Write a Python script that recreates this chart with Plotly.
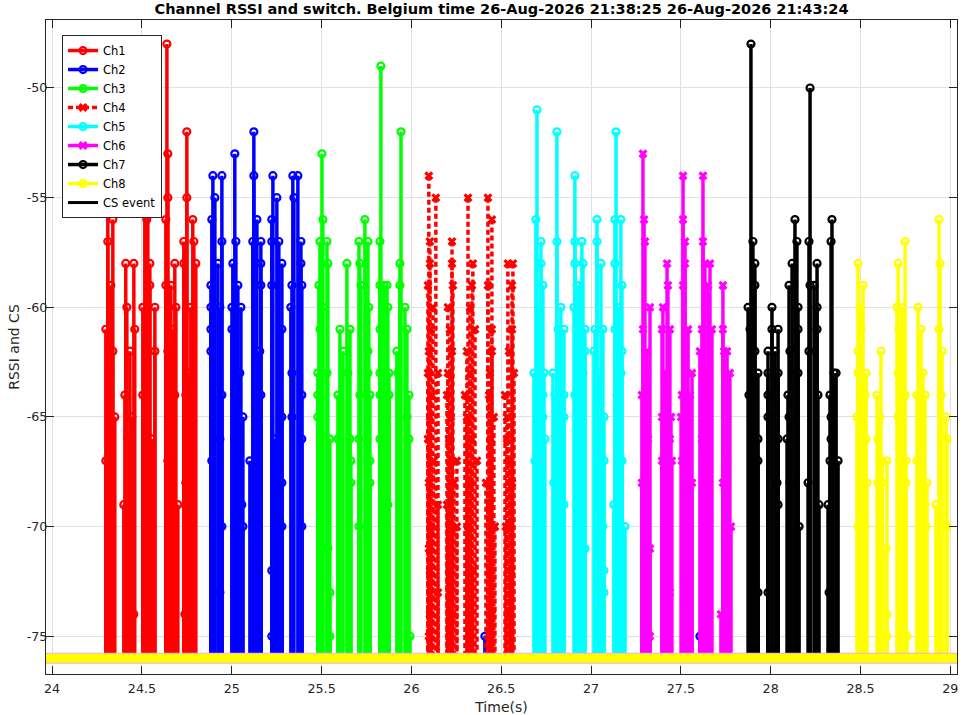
import plotly.graph_objects as go

# RSSI floor reported when the radio is idle on a channel, and the capture window (s)
RSSI_FLOOR = -76
T_START, T_END = 23.966, 29.037
Y_MIN, Y_MAX = -76.72, -46.9

ytick_vals = [-75, -70, -65, -60, -55, -50]
ytick_text = ['-75', '-70', '-65', '-60', '-55', '-50']

names = ['Ch1', 'Ch2', 'Ch3', 'Ch4', 'Ch5', 'Ch6', 'Ch7', 'Ch8']
colors = ['#ff0000', '#0000ff', '#00ff00', '#ff0000', '#00ffff', '#ff00ff', '#000000', '#ffff00']
symbols = ['circle-open', 'circle-open', 'circle-open', 'x', 'circle-open', 'x', 'circle-open', 'circle-open']
dashes = ['solid', 'solid', 'solid', '5px,3px', 'solid', 'solid', 'solid', 'solid']

#sample times (s) and RSSI (dBm) per channel, one line per burst
ch1_t = [24.310, 24.338, 24.310, 24.327, 24.299, 24.338, 24.321, 24.349, 24.299,
	24.410, 24.455, 24.416, 24.460, 24.433, 24.405, 24.444, 24.421, 24.399, 24.455,
	24.533, 24.516, 24.527, 24.544, 24.544, 24.505, 24.572, 24.572, 24.505, 24.555, 24.538, 24.527,
	24.639, 24.644, 24.644, 24.633, 24.683, 24.633, 24.661, 24.689, 24.672, 24.644, 24.683, 24.644, 24.700,
	24.750, 24.750, 24.783, 24.733, 24.789, 24.733, 24.800, 24.772, 24.761, 24.744, 24.744, 24.739]
ch1_rssi = [-54, -56, -57, -59, -61, -62, -63, -65, -67,
	-58, -58, -60, -61, -62, -64, -65, -66, -69, -74,
	-54, -55, -56, -58, -59, -60, -60, -62, -64, -66, -68, -75,
	-48, -53, -55, -56, -58, -59, -59, -60, -61, -62, -64, -67, -69,
	-52, -55, -56, -57, -57, -58, -58, -60, -63, -64, -68, -74]

ch2_t = [24.895, 24.945, 24.906, 24.889, 24.945, 24.923, 24.884, 24.884, 24.934, 24.884, 24.884, 24.945, 24.934, 24.889, 24.945, 24.934,
	25.017, 25.023, 25.006, 25.034, 25.001, 25.051, 25.001, 25.045, 25.062, 25.056, 25.062,
	25.123, 25.123, 25.140, 25.117, 25.162, 25.162, 25.162, 25.156, 25.162, 25.101, 25.140,
	25.229, 25.251, 25.223, 25.223, 25.262, 25.279, 25.223, 25.279, 25.279, 25.240, 25.279, 25.279, 25.223, 25.223,
	25.340, 25.368, 25.346, 25.385, 25.385, 25.335, 25.390, 25.329, 25.335, 25.390, 25.335, 25.390, 25.390,
	26.409, 27.606]
ch2_rssi = [-54, -54, -55, -56, -57, -58, -59, -60, -60, -61, -62, -64, -66, -67, -70, -73,
	-53, -57, -58, -59, -60, -60, -61, -63, -65, -69, -70,
	-52, -54, -56, -57, -57, -58, -59, -62, -64, -67, -67,
	-54, -55, -56, -57, -57, -58, -59, -61, -65, -66, -68, -70, -72, -75,
	-54, -54, -55, -57, -58, -59, -59, -60, -63, -64, -65, -66, -70,
	-75, -75]

ch3_t = [25.502, 25.507, 25.491, 25.530, 25.535, 25.485, 25.507, 25.491, 25.479, 25.530, 25.479, 25.479, 25.546, 25.535, 25.546, 25.546,
	25.641, 25.602, 25.658, 25.619, 25.646, 25.591, 25.591, 25.658, 25.663, 25.663,
	25.741, 25.708, 25.758, 25.713, 25.719, 25.763, 25.758, 25.758, 25.713, 25.769, 25.708, 25.769, 25.769, 25.708,
	25.830, 25.825, 25.825, 25.847, 25.864, 25.869, 25.825, 25.825, 25.875, 25.825, 25.875, 25.825, 25.869,
	25.942, 25.936, 25.936, 25.964, 25.975, 25.919, 25.925, 25.986, 25.975, 25.986, 25.992]
ch3_rssi = [-53, -56, -57, -57, -58, -59, -60, -61, -63, -63, -64, -65, -66, -71, -73, -75,
	-58, -61, -61, -62, -63, -64, -66, -66, -67, -68,
	-56, -57, -57, -58, -59, -60, -62, -63, -64, -64, -66, -67, -68, -70,
	-49, -57, -59, -59, -59, -60, -61, -63, -63, -64, -64, -66, -69,
	-52, -58, -59, -60, -61, -62, -63, -64, -65, -66, -75]

ch4_t = [26.097, 26.136, 26.103, 26.103, 26.092, 26.120, 26.109, 26.097, 26.092, 26.148, 26.114, 26.103, 26.092, 26.125, 26.097, 26.148, 26.109, 26.097, 26.103, 26.148, 26.103, 26.097,
	26.226, 26.226, 26.231, 26.203, 26.214, 26.226, 26.203, 26.198, 26.220, 26.209, 26.226, 26.253, 26.237, 26.198, 26.253, 26.214, 26.226,
	26.315, 26.342, 26.337, 26.326, 26.354, 26.309, 26.326, 26.298, 26.309, 26.337, 26.365, 26.326, 26.315, 26.342, 26.326,
	26.426, 26.448, 26.426, 26.448, 26.448, 26.437, 26.432, 26.459, 26.443, 26.415, 26.437, 26.465, 26.437, 26.448,
	26.537, 26.565, 26.560, 26.560, 26.543, 26.571, 26.521, 26.532, 26.532, 26.548, 26.560, 26.526, 26.554, 26.543]
ch4_rssi = [-54, -55, -57, -58, -59, -60, -61, -62, -63, -63, -64, -65, -66, -67, -68, -69, -70, -71, -72, -73, -74, -75,
	-57, -58, -59, -60, -61, -62, -63, -64, -65, -66, -67, -67, -68, -69, -70, -72, -74,
	-55, -58, -59, -60, -61, -62, -63, -64, -65, -66, -67, -68, -70, -72, -74,
	-55, -56, -59, -61, -62, -63, -64, -65, -66, -68, -69, -70, -72, -74,
	-58, -58, -59, -61, -62, -63, -64, -65, -66, -67, -68, -70, -72, -74]

ch5_t = [26.699, 26.693, 26.721, 26.721, 26.732, 26.710, 26.682, 26.738, 26.732, 26.732, 26.743, 26.688,
	26.810, 26.810, 26.832, 26.816, 26.849, 26.788, 26.799, 26.849, 26.849, 26.793, 26.849,
	26.910, 26.910, 26.949, 26.910, 26.955, 26.921, 26.933, 26.905, 26.966, 26.966, 26.955, 26.910, 26.966,
	27.033, 27.033, 27.055, 27.022, 27.066, 27.016, 27.044, 27.072, 27.072, 27.066, 27.072, 27.072,
	27.139, 27.133, 27.166, 27.133, 27.172, 27.150, 27.133, 27.172, 27.166, 27.144, 27.172, 27.127, 27.189]
ch5_rssi = [-51, -56, -57, -58, -59, -60, -63, -63, -64, -65, -66, -67,
	-52, -57, -60, -61, -61, -63, -64, -64, -65, -68, -69,
	-54, -57, -57, -58, -58, -59, -59, -60, -61, -62, -63, -64, -71,
	-56, -57, -58, -61, -61, -62, -63, -65, -67, -70, -72, -73,
	-52, -56, -56, -58, -59, -60, -61, -62, -63, -64, -67, -69, -70]

ch6_t = [27.289, 27.295, 27.300, 27.328, 27.289, 27.311, 27.311, 27.283, 27.317, 27.283, 27.328, 27.328,
	27.423, 27.428, 27.400, 27.395, 27.439, 27.411, 27.395, 27.445, 27.439, 27.395, 27.450, 27.439,
	27.512, 27.512, 27.523, 27.523, 27.512, 27.540, 27.562, 27.506, 27.551, 27.501, 27.506, 27.562,
	27.623, 27.623, 27.634, 27.662, 27.651, 27.617, 27.673, 27.606, 27.634, 27.634, 27.617,
	27.734, 27.734, 27.740, 27.757, 27.773, 27.757, 27.734, 27.779, 27.723]
ch6_rssi = [-53, -56, -57, -60, -61, -62, -63, -64, -66, -68, -71, -75,
	-58, -59, -60, -61, -61, -63, -65, -65, -66, -67, -67, -73,
	-54, -56, -57, -58, -59, -61, -63, -64, -64, -65, -67, -68,
	-54, -57, -58, -58, -59, -61, -61, -62, -63, -64, -66,
	-59, -61, -62, -62, -63, -67, -68, -70, -74]

ch7_t = [27.890, 27.901, 27.912, 27.912, 27.874, 27.885, 27.912, 27.929, 27.879, 27.929, 27.929, 27.896, 27.929,
	28.007, 28.007, 28.041, 28.024, 27.985, 27.985, 28.041, 27.985, 27.985, 28.041, 28.035, 28.041, 27.985,
	28.135, 28.146, 28.119, 28.102, 28.152, 28.152, 28.107, 28.152, 28.096, 28.102, 28.091, 28.107, 28.158,
	28.219, 28.213, 28.258, 28.219, 28.241, 28.258, 28.258, 28.213, 28.263, 28.208, 28.269,
	28.341, 28.336, 28.352, 28.364, 28.330, 28.336, 28.336, 28.330, 28.375, 28.319, 28.325]
ch7_rssi = [-48, -57, -58, -59, -60, -61, -62, -63, -64, -66, -67, -72, -73,
	-60, -61, -61, -62, -62, -63, -63, -64, -65, -66, -68, -69, -73,
	-56, -57, -58, -59, -60, -61, -62, -63, -64, -65, -66, -68, -70,
	-50, -57, -58, -59, -59, -60, -61, -62, -64, -68, -69,
	-56, -57, -63, -63, -64, -65, -66, -67, -67, -69, -73]

ch8_t = [28.486, 28.514, 28.497, 28.503, 28.486, 28.486, 28.531, 28.525, 28.480, 28.531, 28.536, 28.519, 28.486, 28.525,
	28.614, 28.592, 28.608, 28.597, 28.620, 28.647, 28.597, 28.620, 28.642, 28.647, 28.647,
	28.748, 28.709, 28.703, 28.731, 28.714, 28.709, 28.748, 28.709, 28.753, 28.753, 28.759,
	28.820, 28.837, 28.848, 28.814, 28.859, 28.814, 28.870, 28.859, 28.865, 28.837,
	28.937, 28.943, 28.937, 28.954, 28.948, 28.976, 28.982, 28.920, 28.982]
ch8_rssi = [-58, -59, -60, -61, -62, -63, -63, -64, -65, -66, -68, -69, -70, -70,
	-62, -64, -65, -66, -67, -67, -68, -68, -71, -74, -75,
	-57, -58, -60, -60, -61, -63, -64, -65, -67, -68, -75,
	-60, -61, -63, -64, -64, -67, -68, -69, -70, -74,
	-56, -58, -61, -62, -64, -65, -66, -69, -70]

#carrier sense events: none fired in this window, line sits on the floor
cs_t = [T_START, T_END]
cs_level = [RSSI_FLOOR, RSSI_FLOOR]

channel_t = [ch1_t, ch2_t, ch3_t, ch4_t, ch5_t, ch6_t, ch7_t, ch8_t]
channel_rssi = [ch1_rssi, ch2_rssi, ch3_rssi, ch4_rssi, ch5_rssi, ch6_rssi, ch7_rssi, ch8_rssi]

def stems(times, values):
	#each sample is drawn as a drop from its RSSI down to the floor
	#(starting at the top keeps the dash pattern of Ch4 from lining up across a burst)
	xs, ys = [], []
	for t, v in zip(times, values):
		xs += [t, t, None]
		ys += [v, RSSI_FLOOR, None]
	return xs, ys

fig = go.Figure()
for i in range(len(names)):
	xs, ys = stems(channel_t[i], channel_rssi[i])
	if symbols[i] == 'x':
		marker = dict(symbol = 'x', size = 8, color = colors[i])
	else:
		marker = dict(symbol = 'circle-open', size = 7, color = colors[i], line = dict(width = 2.2, color = colors[i]))
	fig.add_trace(go.Scatter(x = xs, y = ys, mode = 'lines+markers', name = names[i],
		line = dict(color = colors[i], width = 3.5, dash = dashes[i]), marker = marker))

fig.add_trace(go.Scatter(x = cs_t, y = cs_level, mode = 'lines', name = 'CS event', line = dict(color = 'black', width = 3)))

#idle floor of every channel, Ch8 ends up on top
fig.add_trace(go.Scatter(x = [T_START, T_END], y = [RSSI_FLOOR, RSSI_FLOOR], mode = 'lines', showlegend = False,
	hoverinfo = 'skip', line = dict(color = '#f7a8f7', width = 11)))
fig.add_trace(go.Scatter(x = [T_START, T_END], y = [RSSI_FLOOR, RSSI_FLOOR], mode = 'lines', showlegend = False,
	hoverinfo = 'skip', line = dict(color = '#ffff00', width = 9)))

axis_style = dict(showline = True, linecolor = '#262626', linewidth = 1, mirror = 'ticks', ticks = 'inside',
	ticklen = 8, tickcolor = '#262626', showgrid = True, gridcolor = '#e1e1e1', zeroline = False,
	tickfont = dict(size = 12.7, color = '#262626'), automargin = False)

fig.update_xaxes(range = [T_START, T_END], tick0 = 24, dtick = 0.5, ticklabelstandoff = 3,
	title = dict(text = 'Time(s)', font = dict(size = 14, color = '#262626'), standoff = 6), **axis_style)
fig.update_yaxes(range = [Y_MIN, Y_MAX], tickvals = ytick_vals, ticktext = ytick_text, ticklabelstandoff = -5,
	title = dict(text = 'RSSI and CS', font = dict(size = 14, color = '#262626'), standoff = 3), **axis_style)

fig.update_layout(
	width = 964, height = 715,
	margin = dict(l = 46, r = 7, t = 20, b = 41),
	paper_bgcolor = 'white', plot_bgcolor = 'white',
	font = dict(family = 'DejaVu Sans', color = '#262626'),
	title = dict(text = '<b>Channel RSSI and switch. Belgium time 26-Aug-2026 21:38:25 26-Aug-2026 21:43:24</b>',
		x = 0.5, xref = 'paper', xanchor = 'center', y = 1 - 9/715, yref = 'container', yanchor = 'middle',
		font = dict(size = 14.5, color = 'black')),
	legend = dict(x = 0.0176, y = 0.977, xanchor = 'left', yanchor = 'top', bgcolor = 'white',
		bordercolor = '#262626', borderwidth = 1, font = dict(size = 11.5, color = 'black'), tracegroupgap = 0),
	showlegend = True,
)

#the page body keeps an 8px default margin, drop it so the figure fills the window
fig.write_html('out.html', config = {'displayModeBar': False}, post_script = "document.body.style.margin = '0';")
